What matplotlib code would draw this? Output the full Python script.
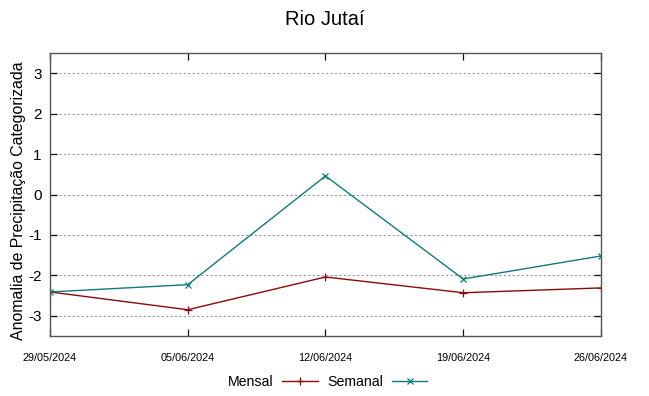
import matplotlib
matplotlib.use("Agg")
import matplotlib.pyplot as plt
from datetime import datetime

dates = ["29/05/2024", "05/06/2024", "12/06/2024", "19/06/2024", "26/06/2024"]
mensal = [-2.41, -2.85, -2.04, -2.43, -2.31]
semanal = [-2.41, -2.23, 0.46, -2.09, -1.52]
yticks = [-3, -2, -1, 0, 1, 2, 3]

plt.rcParams["font.family"] = ["Liberation Sans", "DejaVu Sans"]

x = [datetime.strptime(d, "%d/%m/%Y") for d in dates]

fig = plt.figure(figsize=(6.49, 3.96), dpi=100)
ax = fig.add_axes([0.077, 0.1515, 0.849, 0.7145])

ax.plot(x, mensal, color="#8b0a0a", lw=1.0, marker="+", ms=6, mew=0.9, label="Mensal")
ax.plot(x, semanal, color="#117a7a", lw=1.0, marker="x", ms=5, mew=0.9, label="Semanal")

ax.set_xlim(x[0], x[-1])
ax.set_ylim(-3.5, 3.5)
ax.set_yticks(yticks)
ax.set_yticklabels([str(v) for v in yticks], fontsize=11)
ax.set_xticks(x)
ax.set_xticklabels(dates, fontsize=7.8)
ax.tick_params(axis="both", direction="in", length=5, width=0.9, color="#111111",
               top=True, right=True)
ax.tick_params(axis="x", pad=12)
ax.tick_params(axis="y", pad=6)
ax.grid(axis="y", color="#999999", linestyle=(0, (2, 2)), linewidth=0.8)
for s in ax.spines.values():
    s.set_color("#555555")
    s.set_linewidth(1.0)

ax.set_ylabel("Anomalia de Precipitação Categorizada", fontsize=11.4)
ax.yaxis.set_label_coords(-0.044, 0.477)
fig.suptitle("Rio Jutaí", fontsize=14.5, y=0.975)

ax.legend(loc="center", bbox_to_anchor=(0.505, 0.035), bbox_transform=fig.transFigure,
          ncol=2, frameon=False, markerfirst=False, fontsize=10.2, handlelength=2.5,
          columnspacing=0.7, handletextpad=0.6)

fig.savefig("out.png", dpi=100)
